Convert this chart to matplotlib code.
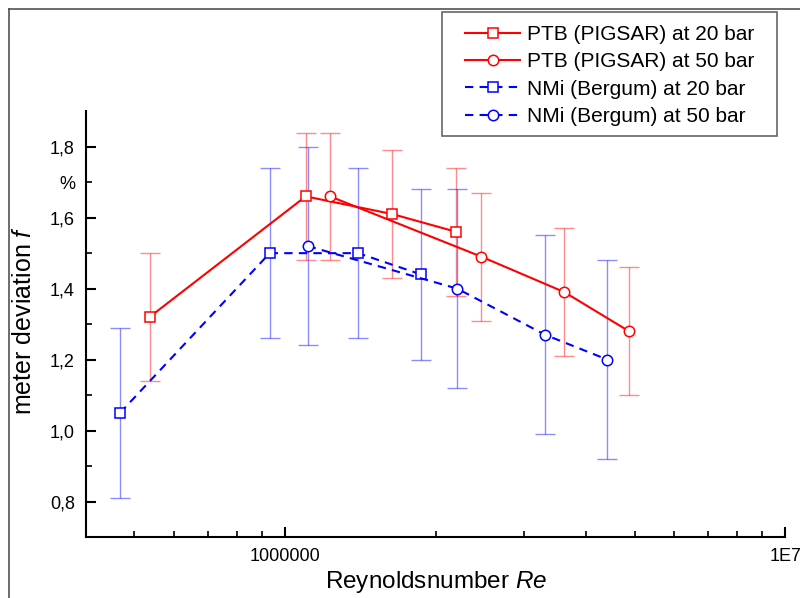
import matplotlib
matplotlib.use("Agg")
import matplotlib.pyplot as plt
from matplotlib.lines import Line2D
from matplotlib.patches import Rectangle
from matplotlib.ticker import FixedLocator, FuncFormatter

plt.rcParams["font.family"] = ["Liberation Sans", "DejaVu Sans"]
plt.rcParams["mathtext.fontset"] = "custom"
plt.rcParams["mathtext.rm"] = "Liberation Sans"
plt.rcParams["mathtext.it"] = "Liberation Sans:italic"

# data
ptb20_re = [5.36e5, 1.10e6, 1.64e6, 2.20e6]
ptb20_f = [1.32, 1.66, 1.61, 1.56]
ptb50_re = [1.23e6, 2.47e6, 3.62e6, 4.87e6]
ptb50_f = [1.66, 1.49, 1.39, 1.28]
nmi20_re = [4.68e5, 9.32e5, 1.40e6, 1.87e6]
nmi20_f = [1.05, 1.50, 1.50, 1.44]
nmi50_re = [1.11e6, 2.21e6, 3.31e6, 4.41e6]
nmi50_f = [1.52, 1.40, 1.27, 1.20]
ptb_err = 0.18
nmi20_err = 0.24
nmi50_err = 0.28

labels = ["PTB (PIGSAR) at 20 bar", "PTB (PIGSAR) at 50 bar",
          "NMi (Bergum) at 20 bar", "NMi (Bergum) at 50 bar"]
y_major = [0.8, 1.0, 1.2, 1.4, 1.6, 1.8]
y_minor = [0.9, 1.1, 1.3, 1.5, 1.7]

RED = "#ff0000"
BLUE = "#0000ff"

fig = plt.figure(figsize=(8.0, 5.98), dpi=100)
ax = fig.add_axes([0.1075, 0.102, 0.874, 0.712])

series = [
    (ptb20_re, ptb20_f, ptb_err, RED, "-", "s", labels[0]),
    (ptb50_re, ptb50_f, ptb_err, RED, "-", "o", labels[1]),
    (nmi20_re, nmi20_f, nmi20_err, BLUE, "--", "s", labels[2]),
    (nmi50_re, nmi50_f, nmi50_err, BLUE, "--", "o", labels[3]),
]

for x, y, err, color, ls, mk, lab in series:
    ax.errorbar(x, y, yerr=err, fmt="none", ecolor=color, alpha=0.45,
                elinewidth=1.0, capsize=7, capthick=1.0, zorder=2)

handles = []
for x, y, err, color, ls, mk, lab in series:
    line, = ax.plot(x, y, linestyle=ls, color=color, lw=1.5, marker=mk,
                    ms=7.5, mfc="white", mec=color, mew=1.1, label=lab, zorder=3)
    if ls == "--":
        line.set_dashes((4, 3))
    handles.append(line)

ax.set_xscale("log")
ax.set_xlim(4e5, 1e7)
ax.set_ylim(0.7, 1.9)

ax.xaxis.set_major_locator(FixedLocator([1e6, 1e7]))
ax.xaxis.set_major_formatter(FuncFormatter(lambda v, p: "1000000" if v < 5e6 else "1E7"))
ax.xaxis.set_minor_locator(FixedLocator([k * 1e5 for k in range(5, 10)] + [k * 1e6 for k in range(2, 10)]))
ax.xaxis.set_minor_formatter(FuncFormatter(lambda v, p: ""))

ax.yaxis.set_major_locator(FixedLocator(y_major))
ax.yaxis.set_major_formatter(FuncFormatter(lambda v, p: f"{v:.1f}".replace(".", ",")))
ax.yaxis.set_minor_locator(FixedLocator(y_minor))
ax.yaxis.set_minor_formatter(FuncFormatter(lambda v, p: "%" if abs(v - 1.7) < 1e-6 else ""))

ax.tick_params(which="major", direction="in", length=7.2, width=1.5, pad=8, labelsize=13)
ax.tick_params(which="minor", direction="in", length=4, width=1.2, pad=8, labelsize=13)

for side in ("top", "right"):
    ax.spines[side].set_visible(False)
for side in ("left", "bottom"):
    ax.spines[side].set_linewidth(1.5)

ax.set_xlabel("Reynoldsnumber $Re$", fontsize=17.5)
ax.set_ylabel("meter deviation $f$", fontsize=18)
ax.xaxis.set_label_coords(0.5, -0.075)
ax.yaxis.set_label_coords(-0.0715, 0.509)

# legend box drawn separately so its padding can match the reference
fig.patches.append(Rectangle((0.552, 0.7726), 0.419, 0.2069, transform=fig.transFigure,
                             facecolor="white", edgecolor="#666666", lw=1.2, zorder=4))
fig.legend(handles=handles, loc="upper left", bbox_to_anchor=(465 / 800, 1 - 25 / 598),
           frameon=False, fontsize=15, borderpad=0, borderaxespad=0,
           handlelength=2.65, handletextpad=0.33, labelspacing=0.4, numpoints=1)

# outer frame of the picture
fig.add_artist(Line2D([0.0109, 1.0], [0.985, 0.985], transform=fig.transFigure, color="#444444", lw=1.1))
fig.add_artist(Line2D([0.0109, 0.0109], [0.0, 0.985], transform=fig.transFigure, color="#444444", lw=1.1))

fig.savefig("out.png", dpi=100, facecolor="white")
